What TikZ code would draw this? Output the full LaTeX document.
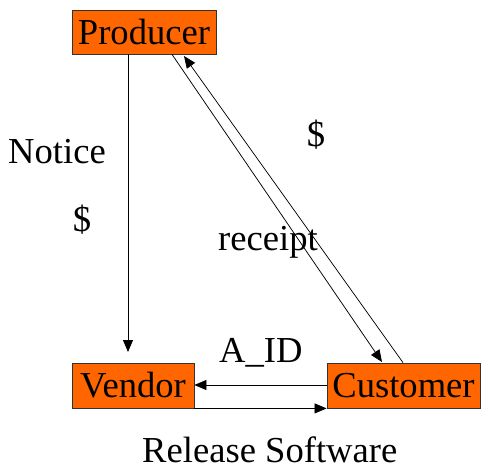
\documentclass[tikz,border=0pt]{standalone}
\usepackage{fontspec}
\setmainfont{Liberation Serif}
\usetikzlibrary{arrows.meta}
\begin{document}
\begin{tikzpicture}[x=1pt,y=-1pt,
  box/.style={draw=black!80,fill={rgb,255:red,255;green,102;blue,0},inner sep=0pt,line width=0.8pt},
  lbl/.style={inner sep=0pt,font=\fontsize{36.6}{40}\selectfont},
  arr/.style={line width=0.75pt,-{Triangle[length=12pt,width=10pt]}}]
\useasboundingbox (0,0) rectangle (481,475);
\node[box,minimum width=144pt,minimum height=44pt,font=\fontsize{36.6}{40}\selectfont] (P) at (144,32) {Producer};
\node[box,minimum width=122pt,minimum height=45pt,font=\fontsize{36.6}{40}\selectfont] (V) at (133,385.5) {Vendor};
\node[box,minimum width=153pt,minimum height=45pt,font=\fontsize{36.6}{40}\selectfont] (C) at (403.5,385.5) {Customer};
\coordinate (n1) at (128,352);
\coordinate (p1) at (172,54);
\coordinate (c1) at (382,362);
\coordinate (c2) at (403,363);
\coordinate (p2) at (184,56);
\draw[arr] (P.south -| n1) -- (n1);
\draw[arr] (P.south -| p1) -- (c1);
\draw[arr] (C.north -| c2) -- (p2);
\draw[arr] (C.west |- 0,385) -- (V.east |- 0,385);
\draw[arr] (V.south east) -- (C.south west);
\node[lbl,anchor=base west] (notice) at (8,163) {Notice};
\node[lbl] (d1) at (82,220) {\$};
\node[lbl] (d2) at (316,135) {\$};
\node[lbl,anchor=base west] (rc) at (218,250) {receipt};
\node[lbl,anchor=base west] (aid) at (219,362) {A\_ID};
\node[lbl,anchor=base west] (rs) at (142,462) {Release Software};
\end{tikzpicture}
\end{document}
